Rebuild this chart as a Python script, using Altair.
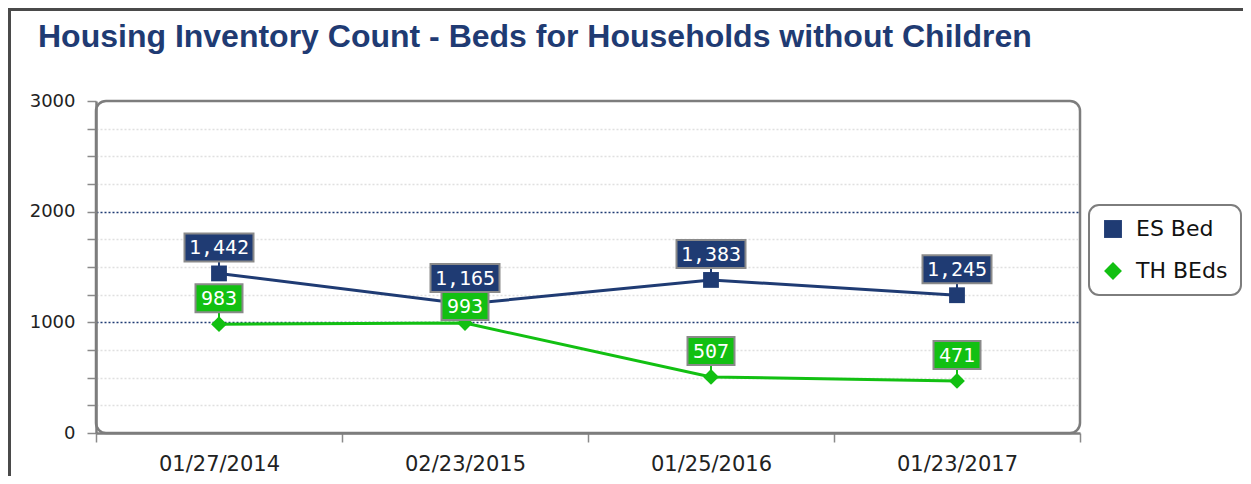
import altair as alt
import pandas as pd

# ---- data ----
dates = ["01/27/2014", "02/23/2015", "01/25/2016", "01/23/2017"]
es_bed = [1442, 1165, 1383, 1245]
th_beds = [983, 993, 507, 471]
series_names = ["ES Bed", "TH BEds"]
y_ticks = list(range(0, 3001, 250))
title_text = "Housing Inventory Count - Beds for Households without Children"

# ---- styles ----
NAVY = "#1f3b73"
GREEN = "#12c012"
series_colors = [NAVY, GREEN]
series_shapes = ["square", "diamond"]
GRAY = "#8a8a8a"
PLOT_W, PLOT_H = 984, 332
Y_MAX = 3000

rows = []
for name, vals in zip(series_names, [es_bed, th_beds]):
    for d, v in zip(dates, vals):
        rows.append({"date": d, "series": name, "value": v, "label": f"{v:,}"})
df = pd.DataFrame(rows)

# label collision avoidance: push the lower series' label down when crowded
px_per_unit = PLOT_H / Y_MAX
upper = dict(zip(dates, es_bed))
def label_shift(r):
    if r["series"] == series_names[0]:
        return 0
    gap_px = (upper[r["date"]] - r["value"]) * px_per_unit
    return int(round(max(0.0, 28 - gap_px)))
df["shift"] = df.apply(label_shift, axis=1)
df["nchar"] = df["label"].str.len()

x_enc = alt.X(
    "date:N",
    sort=dates,
    scale=alt.Scale(type="band", paddingInner=0, paddingOuter=0),
    axis=alt.Axis(
        title=None, labelAngle=0, tickBand="extent", grid=False,
        labelFont="DejaVu Sans", labelFontSize=21, labelColor="#222",
        labelPadding=11, tickSize=9, tickColor=GRAY, tickWidth=1.5,
        domainColor="#7d7d7d", domainWidth=2.5,
    ),
)
y_enc = alt.Y(
    "value:Q",
    scale=alt.Scale(domain=[0, Y_MAX], nice=False, zero=True),
    axis=alt.Axis(
        title=None, values=y_ticks,
        labelExpr="datum.value % 1000 === 0 ? '' + datum.value : ''",
        labelOverlap=False, labelBound=False,
        labelFont="DejaVu Sans", labelFontSize=18, labelColor="#222",
        labelPadding=12, tickSize=9, tickColor=GRAY, tickWidth=1.5,
        domainColor="#7d7d7d", domainWidth=2.5,
        gridColor={"condition": {"test": "datum.value % 1000 === 0", "value": NAVY},
                   "value": "#e0e0e0"},
        gridOpacity={"condition": {"test": "datum.value === 3000 || datum.value === 0", "value": 0},
                     "value": 1},
        gridDash=[2, 2], gridWidth=1.3,
    ),
)

base = alt.Chart(df)

lines = []
for name, col in zip(series_names, series_colors):
    lines.append(
        base.transform_filter(alt.datum.series == name)
        .mark_line(color=col, strokeWidth=3)
        .encode(x=x_enc, y=y_enc)
    )

legend = alt.Legend(
    title=None, orient="none", legendX=993, legendY=104,
    padding=13, strokeColor="#7d7d7d", cornerRadius=10, fillColor="white",
    labelFont="DejaVu Sans", labelFontSize=22, labelColor="#111",
    symbolSize=320, rowPadding=20, labelOffset=12,
)
markers = base.mark_point(filled=True, size=250, opacity=1).encode(
    x=x_enc, y=y_enc,
    color=alt.Color("series:N", scale=alt.Scale(domain=series_names, range=series_colors), legend=legend),
    shape=alt.Shape("series:N", scale=alt.Scale(domain=series_names, range=series_shapes), legend=legend),
)

leaders, boxes, texts = [], [], []
combos = df[["nchar", "shift"]].drop_duplicates().itertuples(index=False)
for n, s in combos:
    n, s = int(n), int(s)
    w = 11 * n + 14
    top, bottom = -40 + s, -12 + s
    sel = f"datum.nchar == {n} && datum.shift == {s}"
    sub = base.transform_filter(sel)
    for name, col in zip(series_names, series_colors):
        leaders.append(
            sub.transform_filter(alt.datum.series == name)
            .mark_point(shape=f"M0,{bottom}V0", size=4, filled=False, stroke=col, strokeWidth=2, opacity=1)
            .encode(x=x_enc, y=y_enc)
        )
    boxes.append(
        sub.mark_point(shape=f"M{-w/2},{top}H{w/2}V{bottom}H{-w/2}Z", size=4, filled=True,
                       stroke=GRAY, strokeWidth=2, opacity=1)
        .encode(
            x=x_enc, y=y_enc,
            fill=alt.Fill("series:N", scale=alt.Scale(domain=series_names, range=series_colors), legend=None),
        )
    )
    texts.append(
        sub.mark_text(dy=(top + bottom) / 2 + 1, font="DejaVu Sans Mono", fontSize=20, color="white",
                      baseline="middle", align="center")
        .encode(x=x_enc, y=y_enc, text="label:N")
    )

frame_df = pd.DataFrame({"k": [0]})
frame_top = alt.Chart(frame_df).mark_rule(color="#4a4a4a", strokeWidth=3).encode(
    x=alt.value(-88), x2=alt.value(1147), y=alt.value(-91.5)
)
frame_left = alt.Chart(frame_df).mark_rule(color="#4a4a4a", strokeWidth=3).encode(
    x=alt.value(-86.5), y=alt.value(-93), y2=alt.value(376)
)

chart = alt.layer(
    *lines, *leaders, markers, *boxes, *texts, frame_top, frame_left
).properties(
    width=PLOT_W, height=PLOT_H,
    background="white",
    autosize=alt.AutoSizeParams(type="none"),
    padding={"left": 88, "top": 93, "right": 163, "bottom": 43},
    title=alt.Title(
        title_text, anchor="start", frame="group", dx=-58, offset=0, dy=72,
        font="Liberation Sans", fontSize=32, fontWeight="bold", color=NAVY,
        baseline="alphabetic",
    ),
).configure_view(
    stroke="#7d7d7d", strokeWidth=2.5, cornerRadius=10, fill="white"
).configure_legend(
    strokeWidth=2
)

chart.save("out.html", embed_options={"renderer": "svg", "actions": False})
